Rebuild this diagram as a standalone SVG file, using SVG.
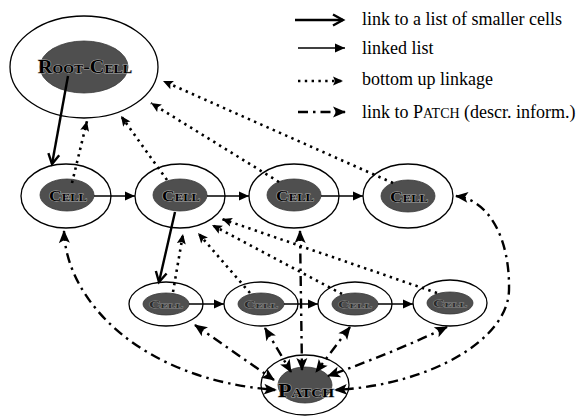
<svg xmlns="http://www.w3.org/2000/svg" width="576" height="416" viewBox="0 0 576 416">
<style>
.outer{fill:#fff;stroke:#000;stroke-width:1.3}
.inner{fill:#4f4f4f;stroke:#3a3a3a;stroke-width:0.8}
.lbl{font-family:"Liberation Serif","Times New Roman",serif;font-weight:bold;font-variant:small-caps;text-anchor:middle;fill:#000;stroke:#a8a8a8;stroke-width:1;paint-order:stroke}
.lbls{font-family:"Liberation Serif","Times New Roman",serif;font-weight:bold;font-variant:small-caps;text-anchor:middle;fill:#2a2a2a;stroke:#8a8a8a;stroke-width:0.8;paint-order:stroke}
.leg{font-family:"Liberation Serif","Times New Roman",serif;font-size:18px;fill:#000}
.thick{fill:none;stroke:#000;stroke-width:2.4;marker-end:url(#chev)}
.thin{fill:none;stroke:#000;stroke-width:1.3;marker-end:url(#tri)}
.dot{fill:none;stroke:#000;stroke-width:2.6;stroke-dasharray:2.4 4.4;marker-end:url(#dia)}
.dd{fill:none;stroke:#000;stroke-width:2.4;stroke-dasharray:10 5 2.5 5;marker-end:url(#big);marker-start:url(#big)}
.dd1{fill:none;stroke:#000;stroke-width:2.4;stroke-dasharray:10 5 2.5 5;marker-end:url(#big)}
</style>
<defs>
<marker id="chev" markerUnits="userSpaceOnUse" markerWidth="14" markerHeight="14" refX="11" refY="6" orient="auto-start-reverse" overflow="visible">
<path d="M1,0.5 L11,6 L1,11.5" fill="none" stroke="#000" stroke-width="2.4"/>
</marker>
<marker id="tri" markerUnits="userSpaceOnUse" markerWidth="12" markerHeight="10" refX="10" refY="4.5" orient="auto-start-reverse" overflow="visible">
<path d="M0,0 L10,4.5 L0,9 z" fill="#000"/>
</marker>
<marker id="dia" markerUnits="userSpaceOnUse" markerWidth="12" markerHeight="10" refX="10" refY="4.5" orient="auto-start-reverse" overflow="visible">
<path d="M0,0 L10,4.5 L0,9 L2,4.5 z" fill="#000"/>
</marker>
<marker id="big" markerUnits="userSpaceOnUse" markerWidth="14" markerHeight="12" refX="12" refY="5.5" orient="auto-start-reverse" overflow="visible">
<path d="M0,0 L13,5.5 L0,11 L3,5.5 z" fill="#000"/>
</marker>
</defs>

<g id="legend">
<path d="M295,20 L343,20" class="thick"/>
<path d="M298,48 L345,48" class="thin"/>
<path d="M298,81 L343,81" class="dot"/>
<path d="M298,112 L345,112" class="dd1"/>
<text class="leg" x="362" y="25">link to a list of smaller cells</text>
<text class="leg" x="362" y="54">linked list</text>
<text class="leg" x="362" y="85">bottom up linkage</text>
<text class="leg" x="362" y="118">link to P<tspan font-size="14">ATCH</tspan> (descr. inform.)</text>
</g>

<g id="root">
<ellipse class="outer" cx="84" cy="67" rx="74" ry="51"/>
<ellipse class="inner" cx="84" cy="67" rx="44" ry="26"/>
<text class="lbl" x="85" y="73" font-size="19" textLength="94" lengthAdjust="spacingAndGlyphs">Root-Cell</text>
</g>

<g id="cell1">
<ellipse class="outer" cx="66" cy="196" rx="45" ry="32"/>
<ellipse class="inner" cx="67" cy="195" rx="27" ry="16"/>
<text class="lbl" x="68" y="201" font-size="14" textLength="38" lengthAdjust="spacingAndGlyphs">Cell</text>
</g>
<g id="cell2">
<ellipse class="outer" cx="180" cy="196" rx="45" ry="32"/>
<ellipse class="inner" cx="180" cy="195" rx="27" ry="16"/>
<text class="lbl" x="181" y="201" font-size="14" textLength="38" lengthAdjust="spacingAndGlyphs">Cell</text>
</g>
<g id="cell3">
<ellipse class="outer" cx="294" cy="196" rx="45" ry="32"/>
<ellipse class="inner" cx="294" cy="195" rx="27" ry="16"/>
<text class="lbl" x="295" y="201" font-size="14" textLength="38" lengthAdjust="spacingAndGlyphs">Cell</text>
</g>
<g id="cell4">
<ellipse class="outer" cx="408" cy="196" rx="45" ry="32"/>
<ellipse class="inner" cx="408" cy="196" rx="27" ry="16"/>
<text class="lbl" x="409" y="202" font-size="14" textLength="38" lengthAdjust="spacingAndGlyphs">Cell</text>
</g>

<g id="cell5">
<ellipse class="outer" cx="166" cy="304" rx="37" ry="22"/>
<ellipse class="inner" cx="166" cy="304" rx="23" ry="11"/>
<text class="lbls" x="166" y="308" font-size="10" textLength="34" lengthAdjust="spacingAndGlyphs">Cell</text>
</g>
<g id="cell6">
<ellipse class="outer" cx="261" cy="304" rx="37" ry="22"/>
<ellipse class="inner" cx="261" cy="304" rx="23" ry="11"/>
<text class="lbls" x="261" y="308" font-size="10" textLength="34" lengthAdjust="spacingAndGlyphs">Cell</text>
</g>
<g id="cell7">
<ellipse class="outer" cx="355" cy="304" rx="37" ry="22"/>
<ellipse class="inner" cx="355" cy="304" rx="23" ry="11"/>
<text class="lbls" x="355" y="308" font-size="10" textLength="34" lengthAdjust="spacingAndGlyphs">Cell</text>
</g>
<g id="cell8">
<ellipse class="outer" cx="450" cy="303" rx="37" ry="23"/>
<ellipse class="inner" cx="450" cy="303" rx="23" ry="11"/>
<text class="lbls" x="450" y="307" font-size="10" textLength="34" lengthAdjust="spacingAndGlyphs">Cell</text>
</g>

<g id="patch">
<ellipse class="outer" cx="305" cy="385" rx="44" ry="30"/>
<ellipse class="inner" cx="305" cy="385" rx="27" ry="18"/>
<text class="lbl" x="306" y="397" font-size="19" textLength="56" lengthAdjust="spacingAndGlyphs">Patch</text>
</g>

<g id="connectors">
<path class="thick" d="M68,76 L52,164"/>
<path class="thick" d="M175,212 L159,282"/>
<path class="thin" d="M94,196 L135,196"/>
<path class="thin" d="M207,196 L249,196"/>
<path class="thin" d="M321,196 L363,196"/>
<path class="thin" d="M189,304 L224,304"/>
<path class="thin" d="M284,304 L318,304"/>
<path class="thin" d="M378,304 L413,304"/>
<path class="dot" d="M72,183 L87,121"/>
<path class="dot" d="M167,180 L121,116"/>
<path class="dot" d="M279,182 L151,103"/>
<path class="dot" d="M393,183 L163,81"/>
<path class="dot" d="M173,292 L183,234"/>
<path class="dot" d="M250,293 L198,233"/>
<path class="dot" d="M342,294 L212,225"/>
<path class="dot" d="M437,293 L222,219"/>
<path class="dd" d="M64,231 C66,300 140,380 276,390"/>
<path class="dd" d="M456,196 C490,200 510,240 509,290 C508,340 430,385 335,390"/>
<path class="dd" d="M300,231 L302,370"/>
<path class="dd" d="M195,325 L274,380"/>
<path class="dd" d="M265,328 L291,372"/>
<path class="dd" d="M350,327 L316,372"/>
<path class="dd" d="M447,327 Q395,352 328,376"/>
</g>
</svg>
